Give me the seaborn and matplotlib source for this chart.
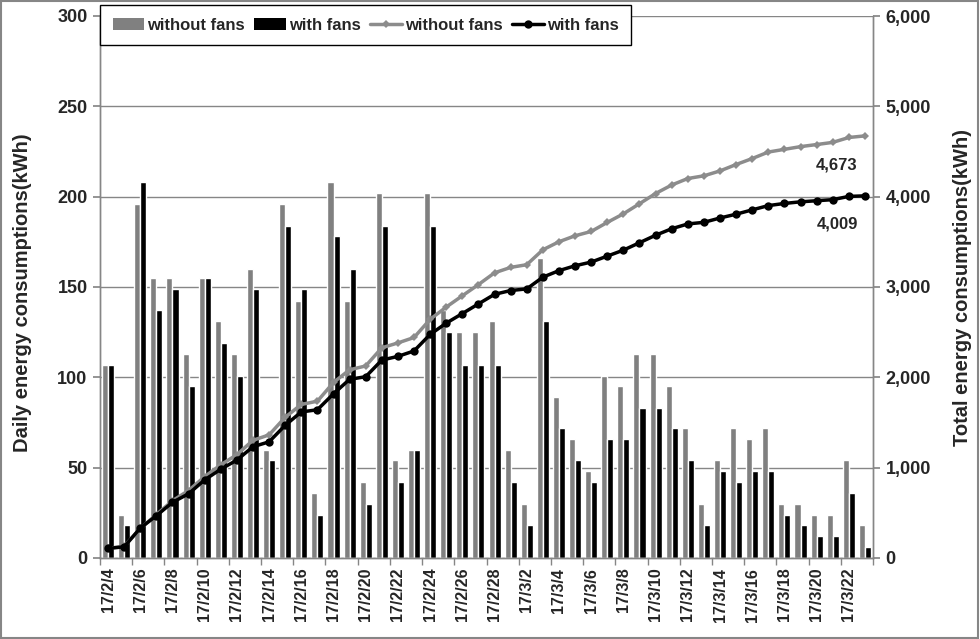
import numpy as np
import pandas as pd
import matplotlib
matplotlib.use("Agg")
import matplotlib.pyplot as plt
from matplotlib.patches import Patch, Rectangle
from matplotlib.lines import Line2D
from matplotlib.ticker import FuncFormatter, FixedLocator
import seaborn as sns

# dates 17/2/4 .. 17/3/23
dates = [f"17/2/{d}" for d in range(4, 29)] + [f"17/3/{d}" for d in range(1, 24)]

# daily energy consumption (kWh)
daily_without = [107, 24, 196, 155, 155, 113, 155, 131, 113, 160, 60, 196, 142, 36, 208, 142,
                 42, 202, 54, 60, 202, 137, 125, 125, 131, 60, 30, 166, 89, 66, 48, 101,
                 95, 113, 113, 95, 72, 30, 54, 72, 66, 72, 30, 30, 24, 24, 54, 18]
daily_with = [107, 18, 208, 137, 149, 95, 155, 119, 101, 149, 54, 184, 149, 24, 178, 160,
              30, 184, 42, 60, 184, 125, 107, 107, 107, 42, 18, 131, 72, 54, 42, 66,
              66, 83, 83, 72, 54, 18, 48, 42, 48, 48, 24, 18, 12, 12, 36, 6]

# total (running) energy consumption (kWh)
total_without = [107, 130, 326, 480, 634, 747, 901, 1032, 1144, 1303, 1363, 1558, 1700, 1736,
                 1943, 2084, 2126, 2327, 2381, 2441, 2642, 2778, 2903, 3027, 3157, 3217, 3247,
                 3412, 3501, 3567, 3615, 3715, 3810, 3922, 4035, 4129, 4201, 4231, 4285, 4356,
                 4422, 4494, 4524, 4554, 4577, 4601, 4655, 4673]
total_with = [106, 124, 331, 468, 616, 711, 865, 983, 1084, 1232, 1286, 1469, 1617, 1641,
              1818, 1978, 2007, 2191, 2232, 2292, 2475, 2600, 2706, 2813, 2919, 2961, 2979,
              3109, 3181, 3235, 3276, 3342, 3408, 3490, 3573, 3645, 3698, 3716, 3764, 3806,
              3854, 3901, 3925, 3943, 3955, 3967, 4003, 4009]

series = ["without fans", "with fans"]
bar_colors = ["#808080", "#000000"]
line_colors = ["#8c8c8c", "#000000"]

sns.set_theme(style="white")
plt.rcParams["font.family"] = ["Liberation Sans", "DejaVu Sans"]
plt.rcParams["font.weight"] = "bold"

df = pd.DataFrame({
    "date": dates * 2,
    "kwh": daily_without + daily_with,
    "case": [series[0]] * len(dates) + [series[1]] * len(dates),
})

fig = plt.figure(figsize=(9.8, 6.39), dpi=100)
ax = fig.add_axes([100 / 980, 1 - 558 / 639, 773 / 980, 542 / 639])

sns.barplot(data=df, x="date", y="kwh", hue="case", palette=bar_colors,
            width=0.75, gap=0, saturation=1, ax=ax, legend=False, errorbar=None)
ax.set_xlim(-0.5, len(dates) - 0.5)
ax.set_ylim(0, 300)
ax.set_yticks(range(0, 301, 50))
ax.grid(axis="y", color="#868686", linewidth=1)
ax.set_axisbelow(True)

ax2 = ax.twinx()
x = np.arange(len(dates))
sns.lineplot(x=x, y=total_without, color=line_colors[0], marker="D", markersize=4,
             markeredgewidth=0, linewidth=2.5, ax=ax2)
sns.lineplot(x=x, y=total_with, color=line_colors[1], marker="o", markersize=6,
             markeredgewidth=0, linewidth=2.5, ax=ax2)
ax2.set_ylim(0, 6000)
ax2.set_yticks(range(0, 6001, 1000))
ax2.yaxis.set_major_formatter(FuncFormatter(lambda v, p: f"{int(v):,}"))
ax2.grid(False)

# end labels
ax2.annotate(f"{total_without[-1]:,}", (x[-1], total_without[-1]), xytext=(-28, -29),
             textcoords="offset pixels", ha="center", va="center", fontsize=12, fontweight="bold")
ax2.annotate(f"{total_with[-1]:,}", (x[-1], total_with[-1]), xytext=(-28, -28),
             textcoords="offset pixels", ha="center", va="center", fontsize=12, fontweight="bold")

# x ticks: labels every 2 days, tick marks on category boundaries
ax.set_xticks(x[::2])
ax.set_xticklabels(dates[::2], rotation=90, fontsize=11.5, fontweight="bold")
ax.xaxis.set_minor_locator(FixedLocator(np.arange(-0.5, len(dates), 2)))
ax.tick_params(axis="x", which="major", length=0, pad=7)
ax.tick_params(axis="x", which="minor", length=5, color="#868686", direction="out", bottom=True)
ax.set_xlabel("")

ax.tick_params(axis="y", length=5, color="#868686", direction="out", left=True, labelsize=13, pad=4)
ax2.tick_params(axis="y", length=5, color="#868686", direction="out", right=True, labelsize=13, pad=4)
for t in ax.get_yticklabels() + ax2.get_yticklabels():
    t.set_fontweight("bold")

ax.set_ylabel("Daily energy consumptions(kWh)", fontsize=14.5, fontweight="bold")
ax2.set_ylabel("Total energy consumptions(kWh)", fontsize=14.5, fontweight="bold")
ax.yaxis.set_label_coords(-0.088, 0.49)
ax2.yaxis.set_label_coords(1.1035, 0.5)

for a in (ax, ax2):
    a.spines["top"].set_visible(False)
    for s in ("left", "right", "bottom"):
        a.spines[s].set_color("#868686")
        a.spines[s].set_linewidth(1)

handles = [
    Patch(facecolor=bar_colors[0], edgecolor="none"),
    Patch(facecolor=bar_colors[1], edgecolor="none"),
    Line2D([], [], color=line_colors[0], marker="D", markersize=4, markeredgewidth=0, linewidth=2.5),
    Line2D([], [], color=line_colors[1], marker="o", markersize=6, markeredgewidth=0, linewidth=2.5),
]
leg = fig.legend(handles, series + series, loc="upper left", bbox_to_anchor=(100 / 980, 1 - 5 / 639),
                 ncol=4, frameon=True, fancybox=False, framealpha=1, edgecolor="black",
                 prop={"size": 12, "weight": "bold"}, handlelength=1.9, handletextpad=0.2,
                 columnspacing=0.55, borderpad=0.75, borderaxespad=0)
leg.get_frame().set_linewidth(1)

fig.patches.append(Rectangle((0.001, 0.002), 0.997, 0.996, transform=fig.transFigure,
                             fill=False, edgecolor="#868686", linewidth=1.5))

fig.savefig("out.png", dpi=100)
